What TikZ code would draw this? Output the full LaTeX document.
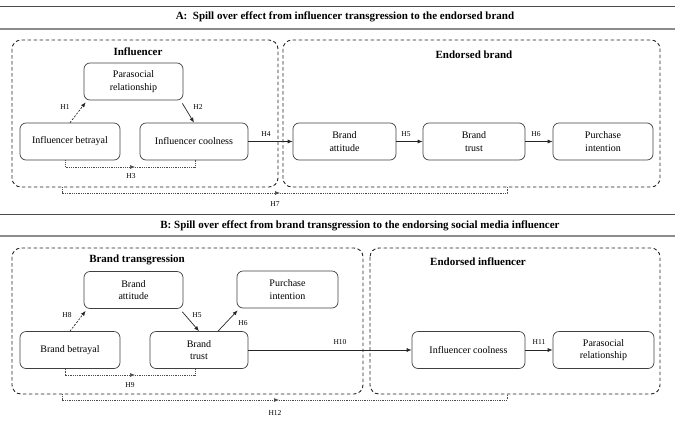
\documentclass[tikz,border=0pt]{standalone}
\usepackage{fontspec}
\setmainfont{Liberation Serif}
\usetikzlibrary{arrows.meta,calc}
\begin{document}
\begin{tikzpicture}[x=1pt,y=-1pt,
  box/.style={draw=black!75, line width=0.7pt, rounded corners=6pt, minimum height=37pt, align=center, font=\fontsize{10}{12.3}\selectfont, inner sep=1pt},
  grp/.style={draw=black!85, line width=0.9pt, dash pattern=on 3.5pt off 2.5pt, rounded corners=9pt},
  grptitle/.style={font=\bfseries\fontsize{11}{13}\selectfont},
  ttl/.style={font=\bfseries\fontsize{11}{13}\selectfont},
  rule/.style={draw=black!70, line width=0.8pt},
  rule2/.style={draw=black!45, line width=1.4pt},
  hl/.style={font=\fontsize{7.5}{9}\selectfont, inner sep=1pt},
  arr/.style={draw=black!85, line width=0.7pt, -{Latex[length=5pt,width=4pt]}},
  darr/.style={arr, dash pattern=on 2pt off 1.5pt},
  dotl/.style={draw=black!70, line width=0.6pt, dash pattern=on 1pt off 0.8pt},
  dotarr/.style={dotl, -{Latex[length=5pt,width=4pt]}}
]
\path[use as bounding box] (0,0) rectangle (675,421);

% ---------- Panel A ----------
\draw[rule] (0,6) -- (675,6);
\node[ttl] (tA) at (345,17) {A:\ \ Spill over effect from influencer transgression to the endorsed brand};
\draw[rule2] (0,29) -- (675,29);

\draw[grp] (12,40) rectangle (278,187);
\draw[grp] (283,40) rectangle (660,187);
\node[grptitle] (gA1) at (138,52) {Influencer};
\node[grptitle] (gA2) at (474,55) {Endorsed brand};

\node[box, minimum width=99pt] (psA) at (133.5,81.5) {Parasocial\\relationship};
\node[box, minimum width=100pt] (ibA) at (70,141.5) {Influencer betrayal};
\node[box, minimum width=108pt] (icA) at (194,141.5) {Influencer coolness};
\node[box, minimum width=103pt] (baA) at (344.5,141.5) {Brand\\attitude};
\node[box, minimum width=102pt] (btA) at (474,141.5) {Brand\\trust};
\node[box, minimum width=100pt] (piA) at (603,141.5) {Purchase\\intention};

\draw[darr] (ibA.north) -- ([xshift=2pt,yshift=-2pt]psA.south west);
\node[hl] (h1) at (65,107) {H1};
\draw[arr] ([xshift=-1pt,yshift=-3pt]psA.south east) -- (icA.north);
\node[hl] (h2) at (198,107) {H2};
\coordinate (m3) at (135,167);
\draw[dotarr] ([xshift=-5pt]ibA.south) |- (m3);
\draw[dotl] (m3) -| ([xshift=1pt]icA.south);
\node[hl] (h3) at (131,176) {H3};
\draw[arr] (icA.east) -- (baA.west);
\node[hl] (h4) at (266,134) {H4};
\draw[arr] (baA.east) -- (btA.west);
\node[hl] (h5) at (406,134) {H5};
\draw[arr] (btA.east) -- (piA.west);
\node[hl] (h6) at (536,134) {H6};
\coordinate (s7) at (62,187);
\coordinate (m7) at (280,193);
\coordinate (e7) at (507,187);
\draw[dotarr] (s7) |- (m7);
\draw[dotl] (m7) -| (e7);
\node[hl] (h7) at (275,204) {H7};

% ---------- Panel B ----------
\draw[rule] (0,214) -- (675,214);
\node[ttl] (tB) at (360,226) {B: Spill over effect from brand transgression to the endorsing social media influencer};
\draw[rule2] (0,236) -- (675,236);

\draw[grp] (12,248) rectangle (363,394);
\draw[grp] (370,248) rectangle (660,394);
\node[grptitle] (gB1) at (137,260) {Brand transgression};
\node[grptitle] (gB2) at (478,262) {Endorsed influencer};

\node[box, minimum width=99pt] (baB) at (133.5,290) {Brand\\attitude};
\node[box, minimum width=101pt] (piB) at (287.5,289.5) {Purchase\\intention};
\node[box, minimum width=100pt] (bbB) at (70,350) {Brand betrayal};
\node[box, minimum width=98pt] (btB) at (199,350) {Brand\\trust};
\node[box, minimum width=113pt] (icB) at (468.5,350) {Influencer coolness};
\node[box, minimum width=101pt] (psB) at (603.5,350) {Parasocial\\relationship};

\draw[darr] (bbB.north) -- ([xshift=2pt,yshift=-2pt]baB.south west);
\node[hl] (h8) at (67,315) {H8};
\draw[arr] ([xshift=-1pt,yshift=-3pt]baB.south east) -- (btB.north);
\node[hl] (h5b) at (197,315) {H5};
\draw[arr] ([xshift=19pt]btB.north) -- ([xshift=1pt,yshift=-2pt]piB.south west);
\node[hl] (h6b) at (243,323) {H6};
\coordinate (m9) at (135,375);
\draw[dotarr] ([xshift=-5pt]bbB.south) |- (m9);
\draw[dotl] (m9) -| ([xshift=-4pt]btB.south);
\node[hl] (h9) at (130,385) {H9};
\draw[arr] (btB.east) -- (icB.west);
\node[hl] (h10) at (340,342) {H10};
\draw[arr] (icB.east) -- (psB.west);
\node[hl] (h11) at (539,342) {H11};
\coordinate (s12) at (62,394);
\coordinate (m12) at (279,400);
\coordinate (e12) at (507,394);
\draw[dotarr] (s12) |- (m12);
\draw[dotl] (m12) -| (e12);
\node[hl] (h12) at (275,413) {H12};
\end{tikzpicture}
\end{document}
